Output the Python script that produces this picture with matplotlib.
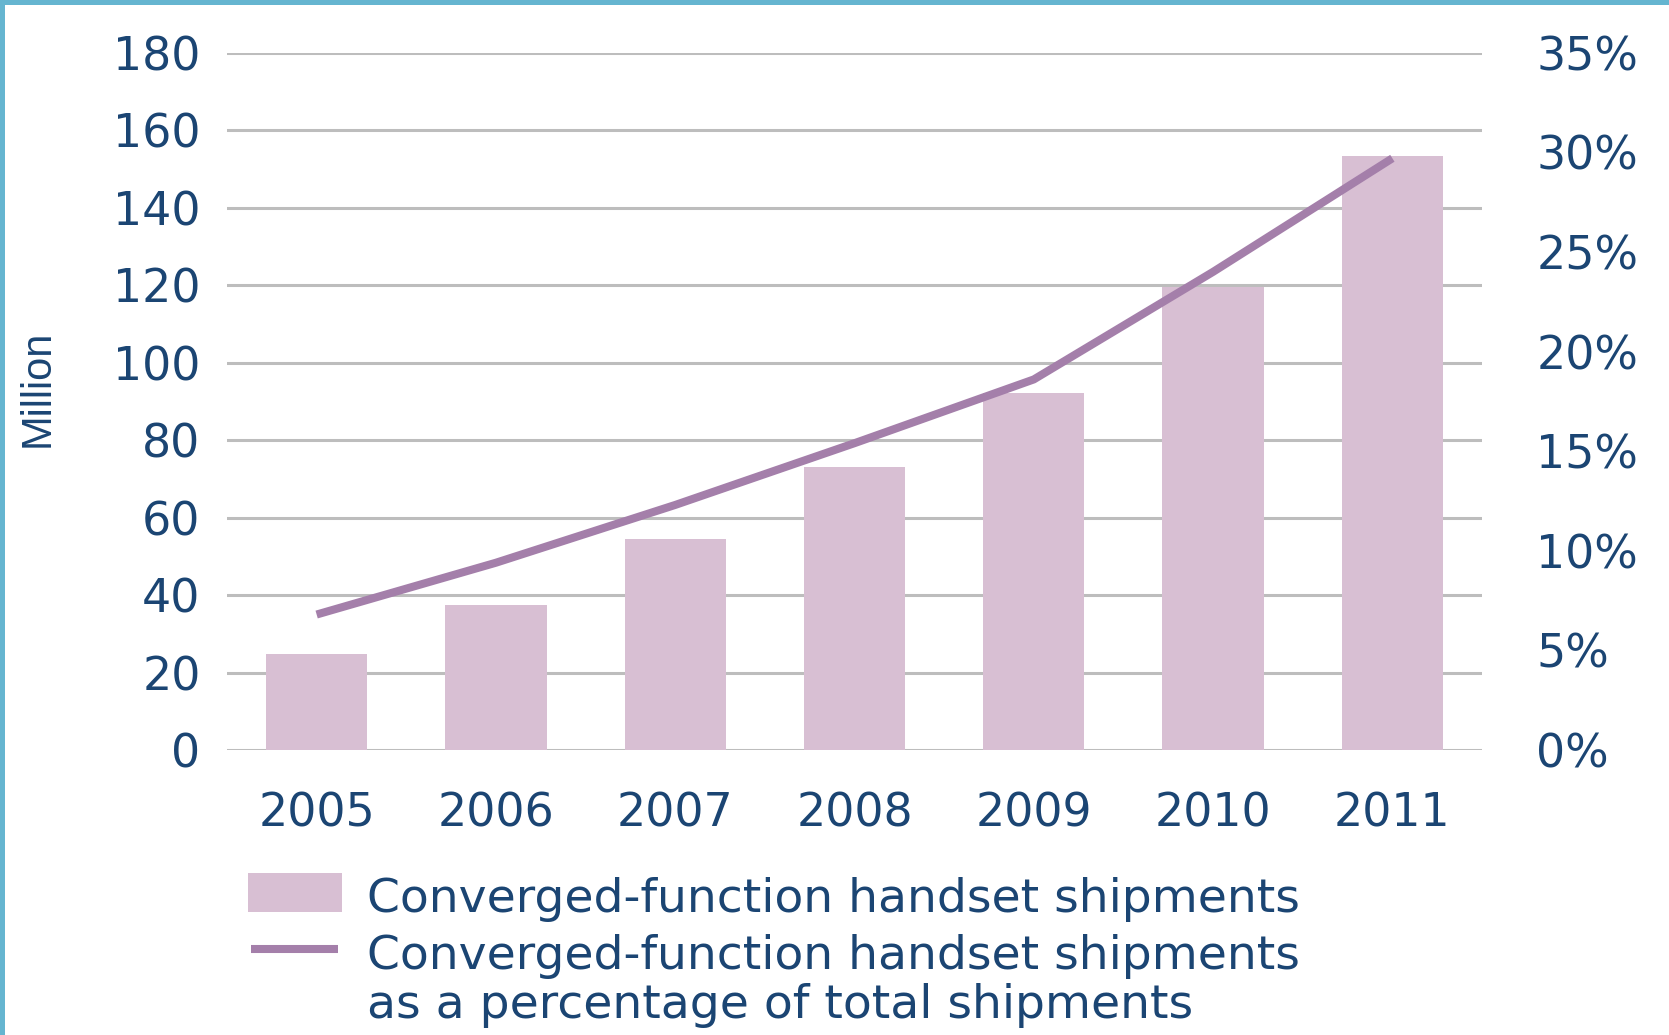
import matplotlib
matplotlib.use("Agg")
import matplotlib.pyplot as plt
from matplotlib.patches import Rectangle
from matplotlib.lines import Line2D
from matplotlib.ticker import FuncFormatter

# Converged-function handset shipments, 2005-2011
years = ["2005", "2006", "2007", "2008", "2009", "2010", "2011"]
shipments_million = [24.9, 37.4, 54.5, 73.1, 92.1, 119.6, 153.3]
share_of_total_pct = [6.8, 9.4, 12.3, 15.4, 18.6, 24.0, 29.7]

left_ticks = [0, 20, 40, 60, 80, 100, 120, 140, 160, 180]
right_ticks = [0, 5, 10, 15, 20, 25, 30, 35]

bar_label = "Converged-function handset shipments"
line_label = "Converged-function handset shipments\nas a percentage of total shipments"

TEXT = "#1B4573"
BAR = "#D8BFD3"
LINE = "#A47FAA"
GRID = "#BDBDBD"
FRAME = "#65B5D0"

W, H = 1669, 1035
fig = plt.figure(figsize=(W / 100, H / 100), dpi=100)
fig.patch.set_facecolor("white")

ax = fig.add_axes([227 / W, 1 - 750 / H, (1482 - 227) / W, (750 - 52.7) / H])
x = list(range(len(years)))

ax.bar(x, shipments_million, width=0.565, color=BAR, zorder=2)
ax.set_xlim(-0.5, len(years) - 0.5)
ax.set_ylim(0, 180)
ax.set_yticks(left_ticks)
ax.set_xticks(x)
ax.set_xticklabels(years)
ax.yaxis.grid(True, color=GRID, linewidth=2.2, zorder=0)
ax.set_axisbelow(True)
for s in ax.spines.values():
    s.set_visible(False)
ax.tick_params(axis="both", length=0, labelsize=33, labelcolor=TEXT)
ax.tick_params(axis="y", pad=19)
ax.tick_params(axis="x", pad=30)
for t in ax.get_xticklabels() + ax.get_yticklabels():
    t.set_family("DejaVu Sans")

ax2 = ax.twinx()
ax2.plot(x, share_of_total_pct, color=LINE, linewidth=5.8, solid_capstyle="butt", zorder=3)
ax2.set_ylim(0, 35)
ax2.set_yticks(right_ticks)
ax2.yaxis.set_major_formatter(FuncFormatter(lambda v, _: f"{v:.0f}%"))
for s in ax2.spines.values():
    s.set_visible(False)
ax2.tick_params(axis="y", length=0, labelsize=33, labelcolor=TEXT, pad=39)
for t in ax2.get_yticklabels():
    t.set_family("DejaVu Sans")

# y-axis title
fig.text(38 / W, 1 - 388 / H, "Million", rotation=90, ha="center", va="center",
         fontsize=30, color=TEXT, family="Liberation Sans")

# legend drawn in figure pixels
def fx(px):
    return px / W

def fy(py):
    return 1 - py / H

fig.patches.append(Rectangle((fx(248), fy(912)), (342 - 248) / W, (912 - 873) / H,
                             transform=fig.transFigure, facecolor=BAR, edgecolor="none"))
fig.lines.append(Line2D([fx(251), fx(338)], [fy(949), fy(949)], transform=fig.transFigure,
                        color=LINE, linewidth=5.8, solid_capstyle="butt"))
fig.text(fx(367), fy(900), bar_label, ha="left", va="center", fontsize=34,
         color=TEXT, family="DejaVu Sans")
fig.text(fx(367), fy(981), line_label, ha="left", va="center", fontsize=34,
         color=TEXT, family="DejaVu Sans", linespacing=1.14)

# frame accents along the top and left edges
fig.patches.append(Rectangle((0, 1 - 5 / H), 1, 5 / H, transform=fig.transFigure,
                             facecolor=FRAME, edgecolor="none"))
fig.patches.append(Rectangle((0, 0), 5 / W, 1, transform=fig.transFigure,
                             facecolor=FRAME, edgecolor="none"))

fig.savefig("out.png", dpi=100)
